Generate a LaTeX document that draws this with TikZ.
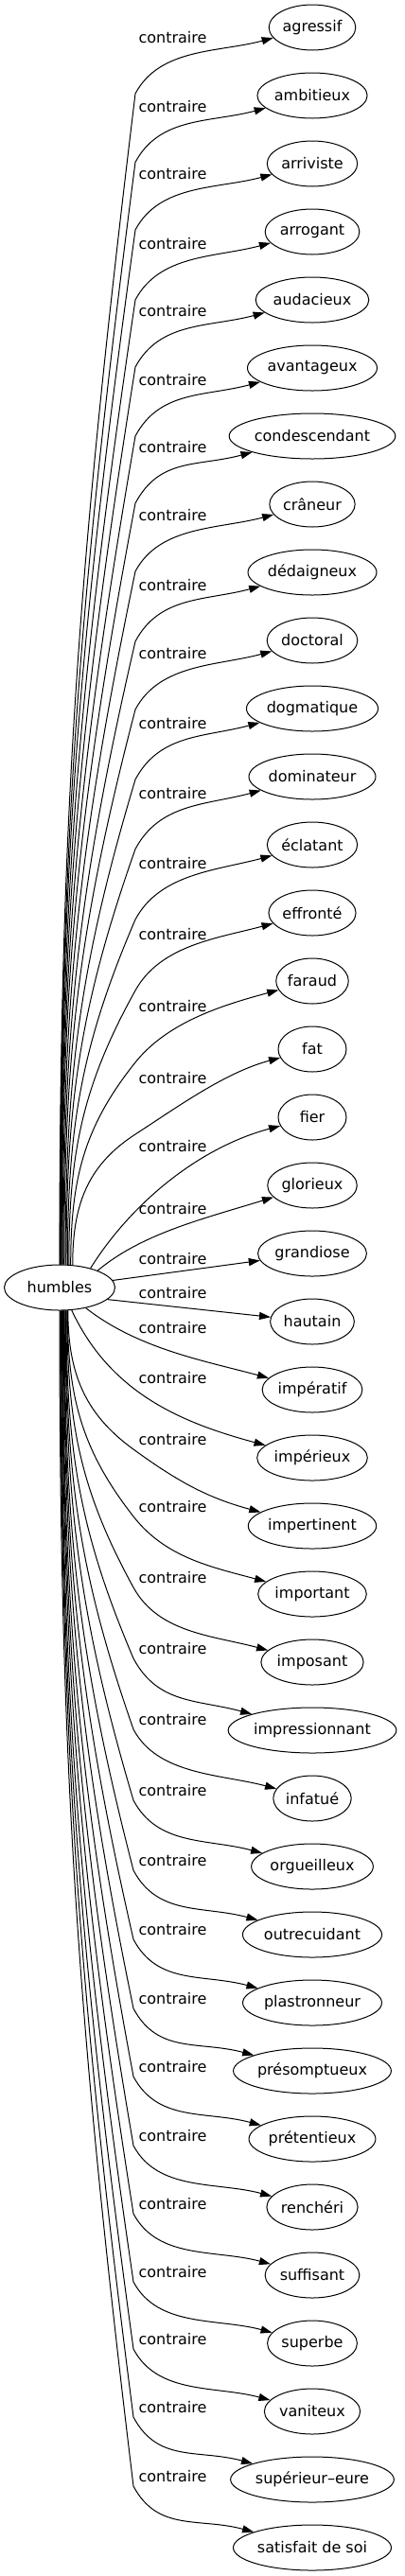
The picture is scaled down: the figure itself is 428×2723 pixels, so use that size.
\documentclass[tikz,border=0pt]{standalone}
\usepackage{fontspec}
\setmainfont{DejaVu Sans}
\usepackage{tikz}
\usetikzlibrary{arrows.meta,shapes.geometric}

\newcommand{\wfont}{\fontsize{16}{19}\selectfont}
\newdimen\wordw

\begin{document}
\begin{tikzpicture}[x=1pt,y=1pt,line width=1pt,>={Triangle[length=12pt,width=8pt]},
  word/.style={draw,ellipse,minimum height=48pt,inner sep=1pt,font=\wfont},
  rel/.style={inner sep=0pt,font=\wfont}]
\useasboundingbox (0,0) rectangle (428,-2723);
\node[word,minimum width=117pt] (h) at (63,-1361) {humbles};
% words on the right, their "contraire" labels, and the long fanned edges
\foreach \word/\ly [count=\i from 0] in {agressif/40, ambitieux/112.5, arriviste/184,
  arrogant/258, audacieux/329, avantageux/402, condescendant/473, crâneur/545,
  dédaigneux/619, doctoral/691, dogmatique/765, dominateur/838.5, éclatant/913,
  effronté/988, faraud/1064, fat/1140, fier/1212, glorieux/1278, grandiose/1331,
  hautain/1367, impératif/1404, impérieux/1457, impertinent/1522, important/1593,
  imposant/1668, impressionnant/1743, infatué/1818, orgueilleux/1893,
  outrecuidant/1967, plastronneur/2040, présomptueux/2113, prétentieux/2185,
  renchéri/2258, suffisant/2330, superbe/2402, vaniteux/2473,
  supérieur–eure/2545, satisfait de soi/2618}{
  \setbox0\hbox{\wfont\word}\wordw=1.255\wd0 \advance\wordw by 30pt
  \ifdim\wordw<72pt \wordw=72pt\fi
  \node[word,minimum width=\wordw] (w\i) at (330,-29-72*\i) {\word};
  \node[rel] (c\i) at (182.5,-\ly) {contraire};
  \ifnum\i<16
    \pgfmathtruncatemacro\sang{90-0.13*\i*\i}
    \pgfmathsetmacro\bend{\ly+59}
    \pgfmathsetmacro\rise{1337-\bend}
    \pgfmathsetmacro\dd{0.39*\rise+1100/\rise}
    \pgfmathsetmacro\arr{90-2*atan(75/\rise)}
    \pgfmathsetmacro\arrin{\arr+180}
    \pgfmathsetmacro\dep{min(62,\arr)}
    \coordinate (b\i) at (143,-\bend);
    \draw[->] (h.\sang) .. controls +(0,\dd) and +(\arrin:\dd) .. (b\i)
      .. controls +(\dep:55) and +(195:60) .. (w\i.195);
  \fi
  \ifnum\i>21
    \pgfmathtruncatemacro\sang{-90+1.33*(37-\i)}
    \pgfmathsetmacro\bend{\ly+10}
    \pgfmathsetmacro\rise{\bend-1385}
    \pgfmathsetmacro\dd{0.39*\rise+1100/\rise}
    \pgfmathsetmacro\arr{90-2*atan(75/\rise)}
    \pgfmathsetmacro\arrin{180-\arr}
    \pgfmathsetmacro\dep{-min(62,\arr)}
    \coordinate (b\i) at (141,-\bend);
    \draw[->] (h.\sang) .. controls +(0,-\dd) and +(\arrin:\dd) .. (b\i)
      .. controls +(\dep:55) and +(165:60) .. (w\i.165);
  \fi
}
% the short edges round the middle
\draw[->] (h.32) .. controls +(58:80) and +(195:90) .. (w16.195);
\draw[->] (h.24) .. controls +(40:60) and +(197:80) .. (w17.197);
\draw[->] (h) -- (w18);
\draw[->] (h.-14) -- (w19);
\draw[->] (h.-38) .. controls +(-38:70) and +(165:70) .. (w20.165);
\draw[->] (h.-62) .. controls +(-65:95) and +(165:95) .. (w21.165);
\end{tikzpicture}
\end{document}
